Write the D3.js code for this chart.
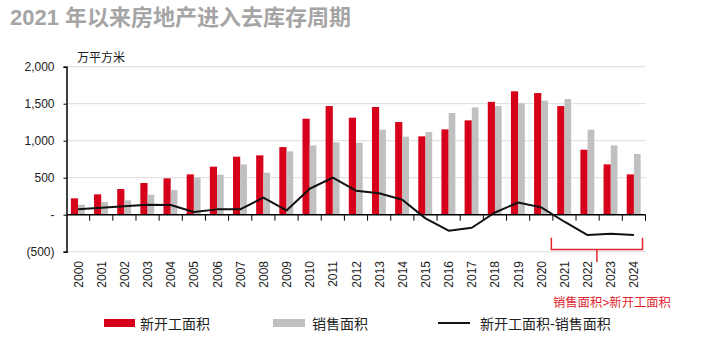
<!DOCTYPE html>
<html><head><meta charset="utf-8">
<script src="https://cdn.jsdelivr.net/npm/d3@7"></script>
<style>
body{margin:0;background:#fff;}
svg{display:block;}
</style></head>
<body>
<svg id="c" width="715" height="358"></svg>
<script>
const years = ["2000","2001","2002","2003","2004","2005","2006","2007","2008","2009","2010","2011","2012","2013","2014","2015","2016","2017","2018","2019","2020","2021","2022","2023","2024"];
const newStarts = [221,275,347,428,491,545,649,784,802,914,1297,1468,1311,1455,1252,1059,1153,1275,1525,1667,1644,1468,878,680,545];
const sales =     [135,171,194,270,333,505,541,680,568,856,937,977,973,1149,1054,1117,1374,1450,1468,1505,1541,1563,1149,937,820];
const diff =      [72,95,113,135,132,36,72,72,230,58,351,500,324,290,203,-50,-216,-176,30,165,99,-95,-275,-257,-275];
const yTicks = [-500,0,500,1000,1500,2000];
const yTickLabels = ["(500)","-","500","1,000","1,500","2,000"];
const title = "2021 年以来房地产进入去库存周期";
const unitLabel = "万平方米";
const legendNames = ["新开工面积","销售面积","新开工面积-销售面积"];
const note = "销售面积>新开工面积";
const bracketRange = ["2021","2024"];

const RED = "#d7001a", GRAY = "#c0c0c0";
const CJK = "'Liberation Sans','Noto Sans CJK SC',Arial,sans-serif";
const svg = d3.select("#c");

const x = d3.scaleBand().domain(years).range([66.5, 645.5]).padding(0);
const y = d3.scaleLinear().domain([-500, 2000]).range([251.7, 66.7]);

// title
svg.append("text").attr("x", 10).attr("y", 25).text(title)
  .attr("font-family", CJK).attr("font-size", 22).attr("font-weight", "bold").attr("fill", "#a5a5a5");

// unit
svg.append("text").attr("x", 77).attr("y", 62).text(unitLabel)
  .attr("font-family", CJK).attr("font-size", 12).attr("fill", "#222");

// gridlines
svg.append("g").selectAll("line").data(yTicks.filter(d => d !== 0)).join("line")
  .attr("x1", x.range()[0]).attr("x2", x.range()[1])
  .attr("y1", d => y(d)).attr("y2", d => y(d))
  .attr("stroke", "#dcdcdc").attr("stroke-width", 1);

// y axis
const yAxis = d3.axisLeft(y).tickValues(yTicks).tickSize(3)
  .tickFormat((d, i) => yTickLabels[i]);
const gy = svg.append("g").attr("transform", `translate(${x.range()[0]},0)`).call(yAxis);
gy.select(".domain").attr("stroke", "#000").attr("stroke-width", 1.5);
gy.selectAll(".tick line").attr("stroke", "#000");
gy.selectAll(".tick text").attr("x", -12).attr("font-family", "'Liberation Sans',Arial,sans-serif")
  .attr("font-size", 12).attr("fill", "#222");

// bars
const bw = 7.2;
const cx = d => x(d) + x.bandwidth() / 2;
svg.append("g").selectAll("rect").data(years).join("rect")
  .attr("x", (d) => cx(d) - bw).attr("width", bw)
  .attr("y", (d, i) => y(newStarts[i])).attr("height", (d, i) => y(0) - y(newStarts[i]))
  .attr("fill", RED);
svg.append("g").selectAll("rect").data(years).join("rect")
  .attr("x", (d) => cx(d)).attr("width", bw - 0.5)
  .attr("y", (d, i) => y(sales[i])).attr("height", (d, i) => y(0) - y(sales[i]))
  .attr("fill", GRAY);

// x axis at zero
const gx = svg.append("g").attr("transform", `translate(0,${y(0)})`);
gx.append("line").attr("x1", x.range()[0]).attr("x2", x.range()[1]).attr("stroke", "#000").attr("stroke-width", 1.5);
gx.selectAll("line.t").data(years.map(d => x(d) + x.bandwidth())).join("line").attr("class", "t")
  .attr("x1", d => d).attr("x2", d => d).attr("y1", 0).attr("y2", 6).attr("stroke", "#000").attr("stroke-width", 1);

// x labels
svg.append("g").selectAll("text").data(years).join("text")
  .attr("transform", d => `translate(${cx(d) + 4.5},261) rotate(-90)`)
  .attr("text-anchor", "end").text(d => d)
  .attr("font-family", "'Liberation Sans',Arial,sans-serif").attr("font-size", 12).attr("fill", "#222");

// line
const line = d3.line().x((d, i) => cx(years[i])).y(d => y(d));
svg.append("path").datum(diff).attr("d", line).attr("fill", "none")
  .attr("stroke", "#111").attr("stroke-width", 2).attr("stroke-linejoin", "round");

// bracket
const bx0 = x(bracketRange[0]) - 1.5, bx1 = x(bracketRange[1]) + x.bandwidth() - 3;
const byTop = 237.7, byBot = 249.5, bmid = (bx0 + bx1) / 2;
svg.append("path").attr("d", `M${bx0},${byTop}L${bx0},${byBot}L${bx1},${byBot}L${bx1},${byTop}M${bmid},${byBot}L${bmid},262`)
  .attr("fill", "none").attr("stroke", "#e0262e").attr("stroke-width", 1.5);
svg.append("text").attr("x", 553).attr("y", 307).text(note)
  .attr("font-family", CJK).attr("font-size", 12.3).attr("fill", "#e0262e");

// legend
const lg = svg.append("g").attr("font-family", CJK).attr("font-size", 14).attr("fill", "#222");
lg.append("rect").attr("x", 104).attr("y", 319).attr("width", 31).attr("height", 8).attr("fill", RED);
lg.append("text").attr("x", 140).attr("y", 329).text(legendNames[0]);
lg.append("rect").attr("x", 273).attr("y", 319).attr("width", 32).attr("height", 8).attr("fill", GRAY);
lg.append("text").attr("x", 312).attr("y", 329).text(legendNames[1]);
lg.append("line").attr("x1", 438).attr("x2", 470).attr("y1", 323).attr("y2", 323).attr("stroke", "#111").attr("stroke-width", 2);
lg.append("text").attr("x", 480).attr("y", 329).text(legendNames[2]);
</script>
</body></html>
